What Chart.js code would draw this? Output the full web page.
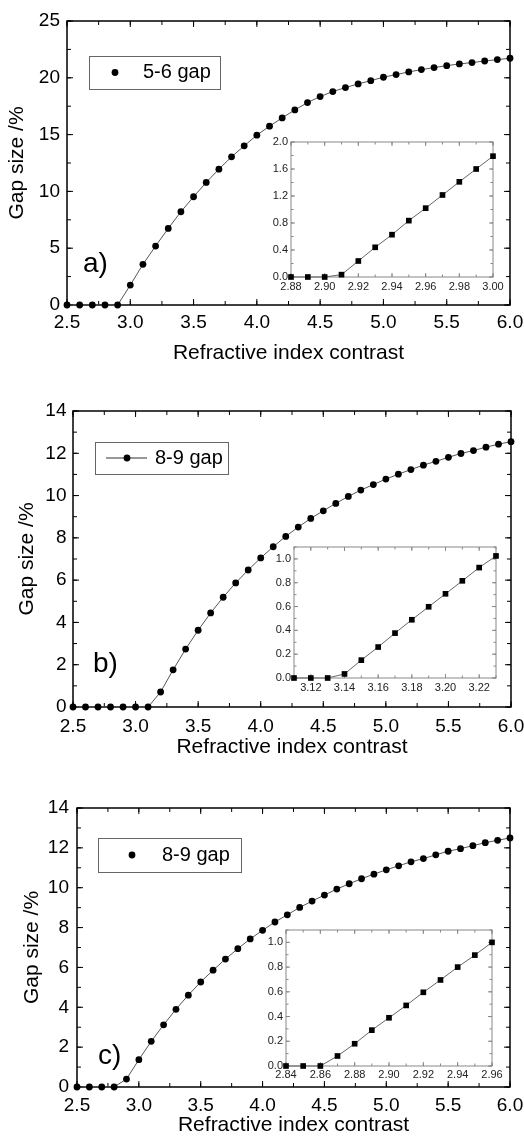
<!DOCTYPE html>
<html>
<head>
<meta charset="utf-8">
<script src="https://cdn.jsdelivr.net/npm/chart.js@4.4.1/dist/chart.umd.min.js"></script>
<style>
  html, body { margin: 0; padding: 0; background: #fff; }
  #page { position: relative; width: 524px; height: 1139px; overflow: hidden; background: #fff; }
  canvas { position: absolute; }
</style>
</head>
<body>
<div id="page">
  <canvas id="main-a" width="524" height="372" style="left:0;top:0"></canvas>
  <canvas id="main-b" width="524" height="380" style="left:0;top:380px"></canvas>
  <canvas id="main-c" width="524" height="379" style="left:0;top:760px"></canvas>
  <canvas id="inset-a" width="260" height="175" style="left:250px;top:125px"></canvas>
  <canvas id="inset-b" width="260" height="175" style="left:250px;top:530px"></canvas>
  <canvas id="inset-c" width="265" height="178" style="left:245px;top:913px"></canvas>
</div>
<script>
// gap size vs refractive index contrast, three lattices + zoomed insets

const contrast = [2.5, 2.6, 2.7, 2.8, 2.9, 3.0, 3.1, 3.2, 3.3, 3.4, 3.5, 3.6, 3.7, 3.8, 3.9,
    4.0, 4.1, 4.2, 4.3, 4.4, 4.5, 4.6, 4.7, 4.8, 4.9, 5.0, 5.1, 5.2, 5.3, 5.4, 5.5, 5.6, 5.7, 5.8, 5.9, 6.0];

// a) 5-6 gap
const gapA = [0, 0, 0, 0, 0, 1.75, 3.58, 5.19, 6.74, 8.21, 9.53, 10.79, 11.96, 13.04, 14.01,
    14.95, 15.74, 16.47, 17.17, 17.82, 18.35, 18.79, 19.14, 19.46, 19.75, 20.05, 20.28, 20.52, 20.72,
    20.90, 21.07, 21.22, 21.34, 21.48, 21.60, 21.72];
// b) 8-9 gap
const gapB = [0, 0, 0, 0, 0, 0, 0, 0.71, 1.76, 2.74, 3.63, 4.45, 5.19, 5.87, 6.48,
    7.05, 7.58, 8.07, 8.51, 8.92, 9.28, 9.63, 9.96, 10.26, 10.52, 10.78, 11.01, 11.23, 11.44,
    11.62, 11.81, 11.99, 12.13, 12.29, 12.43, 12.55];
// c) 8-9 gap
const gapC = [0, 0, 0, 0, 0.40, 1.37, 2.29, 3.12, 3.90, 4.61, 5.27, 5.86, 6.42, 6.94, 7.43,
    7.86, 8.28, 8.64, 9.01, 9.33, 9.63, 9.93, 10.20, 10.45, 10.68, 10.90, 11.10, 11.30, 11.46,
    11.65, 11.83, 11.96, 12.11, 12.26, 12.38, 12.50];

// insets near the gap opening
const insetAX = [2.88, 2.89, 2.90, 2.91, 2.92, 2.93, 2.94, 2.95, 2.96, 2.97, 2.98, 2.99, 3.00];
const insetAY = [0, 0, 0, 0.035, 0.237, 0.44, 0.627, 0.835, 1.02, 1.215, 1.41, 1.60, 1.79];
const insetBX = [3.11, 3.12, 3.13, 3.14, 3.15, 3.16, 3.17, 3.18, 3.19, 3.20, 3.21, 3.22, 3.23];
const insetBY = [0, 0, 0, 0.034, 0.15, 0.26, 0.377, 0.489, 0.598, 0.707, 0.816, 0.927, 1.025];
const insetCX = [2.84, 2.85, 2.86, 2.87, 2.88, 2.89, 2.90, 2.91, 2.92, 2.93, 2.94, 2.95, 2.96];
const insetCY = [0, 0, 0, 0.081, 0.18, 0.29, 0.39, 0.49, 0.596, 0.696, 0.80, 0.897, 1.0];

// tick labels
const mainXTicks = [2.5, 3.0, 3.5, 4.0, 4.5, 5.0, 5.5, 6.0];
const yTicksA = [0, 5, 10, 15, 20, 25];
const yTicksBC = [0, 2, 4, 6, 8, 10, 12, 14];
const insetAXTicks = [2.88, 2.90, 2.92, 2.94, 2.96, 2.98, 3.00];
const insetAYTicks = [0, 0.4, 0.8, 1.2, 1.6, 2.0];
const insetBXTicks = [3.12, 3.14, 3.16, 3.18, 3.20, 3.22];
const insetCXTicks = [2.84, 2.86, 2.88, 2.90, 2.92, 2.94, 2.96];
const insetBCYTicks = [0, 0.2, 0.4, 0.6, 0.8, 1.0];

Chart.defaults.font.family = '"Liberation Sans", Arial, sans-serif';
Chart.defaults.color = '#000';

// frame + inward ticks on all four sides, legend and panel letter
const framePlugin = {
    id: 'frame',
    beforeDraw(chart, args, o) {
        if (!o.fill) return;
        const a = chart.chartArea, ctx = chart.ctx;
        ctx.save();
        ctx.fillStyle = '#fff';
        ctx.fillRect(a.left, a.top, a.right - a.left, a.bottom - a.top);
        ctx.restore();
    },
    beforeDatasetsDraw(chart, args, o) {
        const a = chart.chartArea, ctx = chart.ctx;
        const xs = chart.scales.x, ys = chart.scales.y;
        ctx.save();
        ctx.strokeStyle = o.color;
        ctx.lineWidth = o.tickWidth;
        ctx.beginPath();
        const vTick = (v, len) => {
            const px = xs.getPixelForValue(v);
            ctx.moveTo(px, a.bottom); ctx.lineTo(px, a.bottom - len);
            ctx.moveTo(px, a.top); ctx.lineTo(px, a.top + len);
        };
        const hTick = (v, len) => {
            const py = ys.getPixelForValue(v);
            ctx.moveTo(a.left, py); ctx.lineTo(a.left + len, py);
            ctx.moveTo(a.right, py); ctx.lineTo(a.right - len, py);
        };
        const nx = Math.round((xs.max - xs.min) / o.minorX);
        for (let i = 0; i <= nx; i++) vTick(xs.min + i * o.minorX, o.minorLen);
        const ny = Math.round((ys.max - ys.min) / o.minorY);
        for (let i = 0; i <= ny; i++) hTick(ys.min + i * o.minorY, o.minorLen);
        xs.ticks.forEach(t => vTick(t.value, o.majorLen));
        ys.ticks.forEach(t => hTick(t.value, o.majorLen));
        ctx.stroke();
        ctx.lineWidth = o.frameWidth;
        ctx.strokeRect(a.left, a.top, a.right - a.left, a.bottom - a.top);
        ctx.restore();
    },
    afterDraw(chart, args, o) {
        const ctx = chart.ctx;
        ctx.save();
        if (o.legend) {
            const lg = o.legend;
            const cy = lg.y + lg.h / 2;
            ctx.strokeStyle = '#666';
            ctx.lineWidth = 1;
            ctx.strokeRect(lg.x + 0.5, lg.y + 0.5, lg.w, lg.h);
            if (lg.line) {
                ctx.strokeStyle = '#333';
                ctx.beginPath();
                ctx.moveTo(lg.line[0], cy); ctx.lineTo(lg.line[1], cy);
                ctx.stroke();
            }
            ctx.fillStyle = '#000';
            ctx.beginPath();
            ctx.arc(lg.mx, cy, 3.4, 0, Math.PI * 2);
            ctx.fill();
            ctx.font = '20px "Liberation Sans", Arial, sans-serif';
            ctx.textBaseline = 'middle';
            ctx.fillText(lg.text, lg.tx, cy);
        }
        if (o.label) {
            ctx.fillStyle = '#000';
            ctx.font = '28px "Liberation Sans", Arial, sans-serif';
            ctx.textBaseline = 'middle';
            ctx.fillText(o.label.text, o.label.x, o.label.y);
        }
        ctx.restore();
    }
};

function buildChart(canvasId, p) {
    const points = p.xs.map((x, i) => ({ x: x, y: p.ys[i] }));
    return new Chart(document.getElementById(canvasId), {
        type: 'scatter',
        data: {
            datasets: [{
                data: points,
                showLine: true,
                borderColor: p.lineColor,
                borderWidth: 1,
                pointStyle: p.pointStyle,
                pointRadius: p.pointRadius,
                pointHoverRadius: p.pointRadius,
                pointBackgroundColor: '#000',
                pointBorderWidth: 0,
                clip: false
            }]
        },
        options: {
            responsive: false,
            animation: false,
            events: [],
            layout: { padding: { left: 0, top: p.top, right: p.right, bottom: 0 } },
            plugins: {
                legend: { display: false },
                tooltip: { enabled: false },
                frame: p.frame
            },
            scales: {
                x: {
                    type: 'linear',
                    min: p.xMin,
                    max: p.xMax,
                    grid: { display: false, drawTicks: false },
                    border: { display: false },
                    afterBuildTicks: s => { s.ticks = p.xTicks.map(v => ({ value: v })); },
                    afterFit: s => { s.height = p.xHeight; s.paddingLeft = 0; s.paddingRight = 0; },
                    ticks: {
                        autoSkip: false, maxRotation: 0, padding: p.xPad,
                        font: { size: p.tickSize }, color: p.tickColor,
                        callback: v => v.toFixed(p.xDec)
                    },
                    title: p.xTitle ? {
                        display: true, text: p.xTitle, font: { size: 21 }, color: '#000',
                        padding: { top: 0, bottom: p.xTitlePad }
                    } : { display: false }
                },
                y: {
                    type: 'linear',
                    min: p.yMin,
                    max: p.yMax,
                    grid: { display: false, drawTicks: false },
                    border: { display: false },
                    afterBuildTicks: s => { s.ticks = p.yTicks.map(v => ({ value: v })); },
                    afterFit: s => { s.width = p.yWidth; s.paddingTop = 0; s.paddingBottom = 0; },
                    ticks: {
                        autoSkip: false, padding: p.yPad,
                        font: { size: p.tickSize }, color: p.tickColor,
                        callback: v => v.toFixed(p.yDec)
                    },
                    title: p.yTitle ? {
                        display: true, text: p.yTitle, font: { size: 21 }, color: '#000',
                        padding: { top: p.yTitlePad, bottom: 0 }
                    } : { display: false }
                }
            }
        },
        plugins: [framePlugin]
    });
}

const mainStyle = {
    xs: contrast, xMin: 2.5, xMax: 6.0, xTicks: mainXTicks, xDec: 1, yDec: 0,
    lineColor: '#555', pointStyle: 'circle', pointRadius: 3.4,
    tickSize: 19, tickColor: '#000', right: 14,
    xTitle: 'Refractive index contrast', yTitle: 'Gap size /%'
};
const mainFrame = { color: '#000', tickWidth: 1, frameWidth: 1.5, majorLen: 6, minorLen: 4, minorX: 0.25 };

buildChart('main-a', Object.assign({}, mainStyle, {
    ys: gapA, yMin: 0, yMax: 25, yTicks: yTicksA,
    top: 21, yWidth: 67, xHeight: 67, xPad: 6.5, yPad: 7, xTitlePad: 6, yTitlePad: 5,
    frame: Object.assign({}, mainFrame, {
        minorY: 2.5,
        legend: { x: 89, y: 56, w: 131, h: 33, mx: 115, tx: 143, text: '5-6 gap' },
        label: { text: 'a)', x: 83, y: 264 }
    })
}));

buildChart('main-b', Object.assign({}, mainStyle, {
    ys: gapB, yMin: 0, yMax: 14, yTicks: yTicksBC,
    top: 31, yWidth: 73, xHeight: 53, xPad: 8, yPad: 6.5, xTitlePad: 0.5, yTitlePad: 15,
    right: 13,
    frame: Object.assign({}, mainFrame, {
        minorY: 1,
        legend: { x: 95, y: 62, w: 133, h: 32, line: [106, 147], mx: 127, tx: 155, text: '8-9 gap' },
        label: { text: 'b)', x: 93, y: 284 }
    })
}));

buildChart('main-c', Object.assign({}, mainStyle, {
    ys: gapC, yMin: 0, yMax: 14, yTicks: yTicksBC,
    top: 48, yWidth: 77, xHeight: 52, xPad: 7.5, yPad: 8, xTitlePad: 1.5, yTitlePad: 20,
    frame: Object.assign({}, mainFrame, {
        minorY: 1,
        legend: { x: 98, y: 78, w: 143, h: 34, mx: 132, tx: 162, text: '8-9 gap' },
        label: { text: 'c)', x: 98, y: 296 }
    })
}));

const insetStyle = {
    xDec: 2, yDec: 1, lineColor: '#666', pointStyle: 'rect', pointRadius: 4,
    tickSize: 11, tickColor: '#222', xPad: 3.4, yPad: 3
};
const insetFrame = { fill: true, color: '#888', tickWidth: 1, frameWidth: 1, majorLen: 4, minorLen: 2.5, minorX: 0.01 };

buildChart('inset-a', Object.assign({}, insetStyle, {
    xs: insetAX, ys: insetAY, xMin: 2.88, xMax: 3.00, yMin: 0, yMax: 2.0,
    xTicks: insetAXTicks, yTicks: insetAYTicks,
    top: 17, right: 17, yWidth: 41, xHeight: 23,
    frame: Object.assign({}, insetFrame, { minorY: 0.2 })
}));

buildChart('inset-b', Object.assign({}, insetStyle, {
    xs: insetBX, ys: insetBY, xMin: 3.11, xMax: 3.23, yMin: 0, yMax: 1.1,
    xTicks: insetBXTicks, yTicks: insetBCYTicks,
    top: 17, right: 14, yWidth: 44, xHeight: 27,
    frame: Object.assign({}, insetFrame, { minorY: 0.1 })
}));

buildChart('inset-c', Object.assign({}, insetStyle, {
    xs: insetCX, ys: insetCY, xMin: 2.84, xMax: 2.96, yMin: 0, yMax: 1.1,
    xTicks: insetCXTicks, yTicks: insetBCYTicks,
    top: 17, right: 18, yWidth: 41, xHeight: 25, xPad: 2.4,
    frame: Object.assign({}, insetFrame, { minorY: 0.1 })
}));
</script>
</body>
</html>
